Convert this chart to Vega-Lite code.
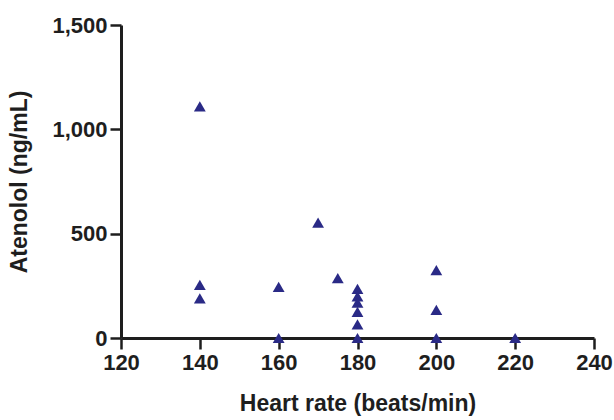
{
  "$schema": "https://vega.github.io/schema/vega-lite/v6.json",
  "autosize": "none",
  "width": 473,
  "height": 313,
  "padding": {"left": 121, "top": 25, "right": 20, "bottom": 82},
  "background": "white",
  "config": {
    "view": {"stroke": null},
    "font": "Liberation Sans",
    "axis": {
      "grid": false,
      "domainColor": "#1e1e1e",
      "domainWidth": 3,
      "tickColor": "#1e1e1e",
      "tickWidth": 2.5,
      "tickSize": 11,
      "labelFont": "Liberation Sans",
      "labelFontWeight": "bold",
      "labelFontSize": 22,
      "labelColor": "#1e1e1e",
      "titleFont": "Liberation Sans",
      "titleFontWeight": "bold",
      "titleFontSize": 23,
      "titleColor": "#1e1e1e"
    }
  },
  "data": {
    "values": [
      {"hr": 140, "atenolol": 1110},
      {"hr": 140, "atenolol": 255},
      {"hr": 140, "atenolol": 190},
      {"hr": 160, "atenolol": 245},
      {"hr": 160, "atenolol": 0},
      {"hr": 170, "atenolol": 553},
      {"hr": 175, "atenolol": 287},
      {"hr": 180, "atenolol": 235},
      {"hr": 180, "atenolol": 200},
      {"hr": 180, "atenolol": 170},
      {"hr": 180, "atenolol": 125},
      {"hr": 180, "atenolol": 65},
      {"hr": 180, "atenolol": 0},
      {"hr": 200, "atenolol": 325},
      {"hr": 200, "atenolol": 135},
      {"hr": 200, "atenolol": 0},
      {"hr": 220, "atenolol": 0}
    ]
  },
  "mark": {"type": "point", "shape": "triangle-up", "filled": true, "size": 140, "color": "#2a2a86", "opacity": 1, "clip": false},
  "encoding": {
    "x": {
      "field": "hr",
      "type": "quantitative",
      "scale": {"domain": [120, 240], "nice": false, "zero": false},
      "axis": {"values": [120, 140, 160, 180, 200, 220, 240], "title": "Heart rate (beats/min)", "labelPadding": 3, "titlePadding": 19, "labelFlush": false}
    },
    "y": {
      "field": "atenolol",
      "type": "quantitative",
      "scale": {"domain": [0, 1500], "nice": false},
      "axis": {"values": [0, 500, 1000, 1500], "format": ",.0f", "title": "Atenolol (ng/mL)", "labelPadding": 3, "titlePadding": 20, "labelFlush": false}
    }
  }
}
